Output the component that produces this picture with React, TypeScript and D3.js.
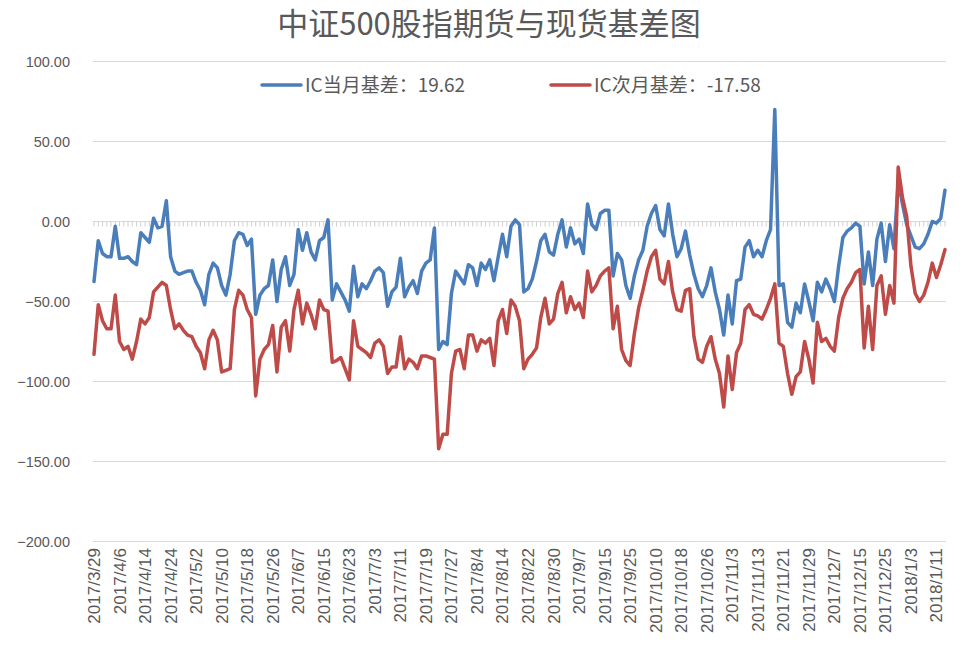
import React from "react";
import * as d3 from "d3";

const TITLE = "中证500股指期货与现货基差图";
const SERIES_NAMES = ["IC当月基差：19.62", "IC次月基差：-17.58"];
const SERIES_COLORS = ["#4A7EBB", "#BE4B48"];

const TICK_LABELS = [
  "2017/3/29", "2017/4/6", "2017/4/14", "2017/4/24", "2017/5/2", "2017/5/10",
  "2017/5/18", "2017/5/26", "2017/6/7", "2017/6/15", "2017/6/23", "2017/7/3",
  "2017/7/11", "2017/7/19", "2017/7/27", "2017/8/4", "2017/8/14", "2017/8/22",
  "2017/8/30", "2017/9/7", "2017/9/15", "2017/9/25", "2017/10/10", "2017/10/18",
  "2017/10/26", "2017/11/3", "2017/11/13", "2017/11/21", "2017/11/29", "2017/12/7",
  "2017/12/15", "2017/12/25", "2018/1/3", "2018/1/11",
];
const LABEL_EVERY = 6;

const Y_TICKS = [100, 50, 0, -50, -100, -150, -200];

// IC current-month basis
const IC_CURRENT = [
  -37.5, -12, -20, -22, -22, -3, -23, -23, -22, -25,
  -27, -7, -10, -13, 2, -4, -3, 13, -22, -31,
  -33, -32, -31, -31, -38, -43, -52, -33, -26, -29,
  -40, -46, -33, -12, -7, -8, -15, -11, -58, -46,
  -42, -40, -24, -50, -30, -22, -40, -33, -5, -18,
  -7, -19, -24, -12, -10, 1, -49, -39, -44, -49,
  -56, -28, -47, -39, -42, -37, -31, -29, -32, -53,
  -44, -41, -23, -47, -41, -37, -45, -31, -26, -24,
  -4, -80, -75, -77, -45, -31, -35, -39, -27, -29,
  -40, -26, -30, -24, -37, -22, -8, -22, -3, 1,
  -2, -44, -42, -36, -25, -12, -8, -19, -21, -8,
  1, -16, -4, -14, -11, -20, 11, -2, -5, 5,
  7, 7, -34, -20, -24, -40, -48, -34, -24, -18,
  -3, 5, 10, -5, -9, 11, -8, -22, -17, -6,
  -21, -33, -42, -47, -40, -29, -44, -55, -71, -46,
  -64, -37, -36, -16, -12, -22, -18, -22, -12, -5,
  70, -40, -39, -63, -66, -51, -57, -39, -50, -62,
  -38, -44, -36, -42, -50, -28, -10, -6, -4, -1,
  -3, -39, -19, -40, -11, -1, -25, -2, -17, 25,
  11, -2, -9, -16, -17, -14, -8, 0, -1, 2,
  19.62,
];

// IC next-month basis
const IC_NEXT = [
  -83, -52, -62, -67, -67, -46, -75, -80, -78, -86,
  -75, -61, -64, -60, -44, -41, -38, -40, -55, -67,
  -64, -68, -71, -72, -78, -82, -92, -74, -68, -74,
  -94, -93, -92, -55, -43, -46, -55, -60, -109, -86,
  -80, -77, -65, -94, -66, -62, -81, -55, -43, -64,
  -51, -58, -67, -49, -55, -56, -88, -87, -85, -92,
  -99, -62, -78, -80, -82, -85, -76, -74, -78, -95,
  -91, -91, -72, -92, -86, -88, -92, -84, -84, -85,
  -86, -142, -133, -133, -95, -81, -80, -92, -71, -71,
  -81, -74, -76, -73, -90, -62, -55, -70, -49, -53,
  -62, -92, -86, -83, -79, -60, -48, -64, -61, -45,
  -38, -57, -47, -55, -51, -60, -31, -44, -40, -34,
  -31, -29, -67, -53, -80, -87, -90, -70, -54, -43,
  -31, -22, -18, -36, -39, -25, -44, -55, -56, -43,
  -42, -72, -86, -88, -78, -72, -86, -95, -116, -84,
  -105, -82, -76, -55, -52, -58, -59, -61, -55, -48,
  -39, -76, -78, -95, -108, -97, -94, -75, -86, -101,
  -63, -75, -73, -78, -81, -60, -48, -42, -38, -32,
  -30, -79, -53, -80, -40, -34, -58, -40, -51, 34,
  15, 3, -28, -45, -50, -46, -38, -26, -35, -27,
  -17.58,
];

const W = 960;
const H = 660;
const PLOT_LEFT = 94;
const PLOT_RIGHT = 945;
const PLOT_TOP = 61.5;
const PLOT_BOTTOM = 541.5;

const LATIN = "'Liberation Sans', Arial, sans-serif";
const CJK = "'Noto Sans CJK SC', 'Noto Sans', sans-serif";
const TEXT_COLOR = "#595959";

export default function App() {
  const n = IC_CURRENT.length;
  const x = d3.scaleLinear().domain([0, n - 1]).range([PLOT_LEFT, PLOT_RIGHT]);
  const y = d3.scaleLinear().domain([-200, 100]).range([PLOT_BOTTOM, PLOT_TOP]);
  const line = d3
    .line<number>()
    .x((_, i) => x(i))
    .y((d) => y(d));
  const fmt = d3.format(".2f");
  const idx = d3.range(n);

  return (
    <svg
      width={W}
      height={H}
      style={{ position: "absolute", left: 0, top: 0, background: "#fff" }}
    >
      <text
        x={489}
        y={35}
        textAnchor="middle"
        fontFamily={CJK}
        fontSize={31}
        fill={TEXT_COLOR}
      >
        {TITLE}
      </text>

      {/* gridlines */}
      {Y_TICKS.filter((t) => t !== 0).map((t) => (
        <line
          key={"g" + t}
          x1={PLOT_LEFT - 1}
          x2={PLOT_RIGHT + 1}
          y1={y(t)}
          y2={y(t)}
          stroke="#D9D9D9"
          strokeWidth={1}
        />
      ))}

      {/* y labels */}
      {Y_TICKS.map((t) => (
        <text
          key={"yl" + t}
          x={70}
          y={y(t) + 5}
          textAnchor="end"
          fontFamily={LATIN}
          fontSize={14.5}
          fill={TEXT_COLOR}
        >
          {fmt(t)}
        </text>
      ))}

      {/* zero axis with category ticks */}
      <line
        x1={PLOT_LEFT - 1}
        x2={PLOT_RIGHT + 1}
        y1={y(0)}
        y2={y(0)}
        stroke="#D9D9D9"
        strokeWidth={1}
      />
      {idx.map((i) => (
        <line
          key={"t" + i}
          x1={x(i)}
          x2={x(i)}
          y1={y(0)}
          y2={y(0) + 5}
          stroke="#D0D0D0"
          strokeWidth={1}
        />
      ))}

      {/* x labels */}
      {TICK_LABELS.map((lab, k) => {
        const px = x(k * LABEL_EVERY);
        return (
          <text
            key={"xl" + k}
            transform={`translate(${px + 6},${548}) rotate(-90)`}
            textAnchor="end"
            fontFamily={LATIN}
            fontSize={17}
            fill={TEXT_COLOR}
          >
            {lab}
          </text>
        );
      })}

      {/* series */}
      <path
        d={line(IC_CURRENT) || ""}
        fill="none"
        stroke={SERIES_COLORS[0]}
        strokeWidth={3.5}
        strokeLinejoin="round"
        strokeLinecap="round"
      />
      <path
        d={line(IC_NEXT) || ""}
        fill="none"
        stroke={SERIES_COLORS[1]}
        strokeWidth={3.5}
        strokeLinejoin="round"
        strokeLinecap="round"
      />

      {/* legend */}
      {SERIES_NAMES.map((name, k) => {
        const lx = k === 0 ? 262 : 551;
        return (
          <g key={"lg" + k}>
            <line
              x1={lx}
              x2={lx + 39}
              y1={85}
              y2={85}
              stroke={SERIES_COLORS[k]}
              strokeWidth={3.5}
              strokeLinecap="round"
            />
            <text
              x={lx + 43}
              y={92}
              fontFamily={CJK}
              fontSize={19}
              fill={TEXT_COLOR}
            >
              {name}
            </text>
          </g>
        );
      })}
    </svg>
  );
}
